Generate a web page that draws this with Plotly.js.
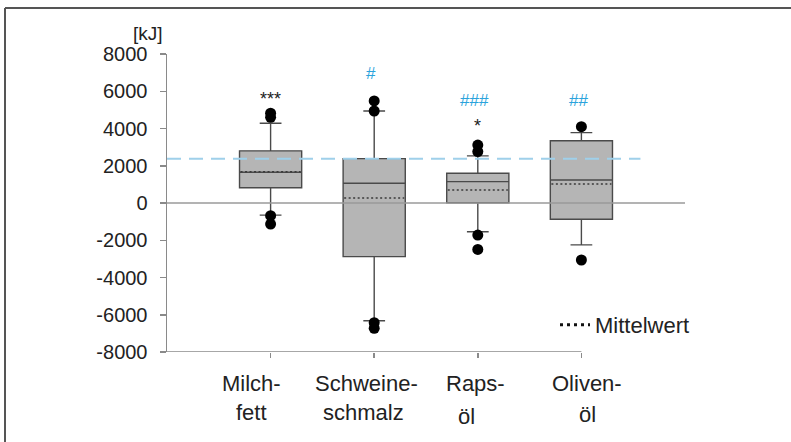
<!DOCTYPE html>
<html>
<head>
<meta charset="utf-8">
<script src="https://cdn.plot.ly/plotly-3.0.1.min.js"></script>
<style>
  html, body { margin: 0; padding: 0; background: #fff; }
  #chart { width: 791px; height: 442px; }
</style>
</head>
<body>
<div id="chart"></div>
<script>
// Energy balance per fat type, box plots in kJ
const categories = ['Milch-<br>fett', 'Schweine-<br>schmalz', 'Raps-<br>öl', 'Oliven-<br>öl'];
const q1Values = [820, -2880, 10, -870];
const medianValues = [1650, 1060, 1150, 1235];
const q3Values = [2800, 2380, 1600, 3340];
const lowerWhisker = [-650, -6320, -1540, -2250];
const upperWhisker = [4280, 4940, 2530, 3780];
const meanValues = [1680, 270, 700, 1020];
const outliers = [
  [4600, 4820, -680, -1130],
  [5480, 4940, -6430, -6730],
  [3110, 2760, -1720, -2490],
  [4100, -3060]
];
const starLabels = ['***', '', '*', ''];
const hashLabels = ['', '#', '###', '##'];
const referenceValue = 2370;
const yTicks = [-8000, -6000, -4000, -2000, 0, 2000, 4000, 6000, 8000];
const yTickText = yTicks.map(v => String(v));

// plot geometry (pixels)
const W = 791, H = 442;
const M = { l: 167, r: 106, t: 54, b: 90 };
const pw = W - M.l - M.r, ph = H - M.t - M.b;
const px2x = p => (p - M.l) / pw;
const px2y = p => (H - M.b - p) / ph;

const xs = categories.map((_, i) => i);
const boxWidth = 0.6;
const half = boxWidth / 2 - 0.01;

const boxTrace = {
  type: 'box',
  x: xs,
  q1: q1Values,
  median: medianValues,
  q3: q3Values,
  lowerfence: lowerWhisker,
  upperfence: upperWhisker,
  width: boxWidth,
  whiskerwidth: 0.35,
  fillcolor: '#b5b5b5',
  line: { color: '#4a4a4a', width: 1.4 },
  boxpoints: false,
  hoverinfo: 'skip',
  showlegend: false
};

const meanX = [], meanY = [];
meanValues.forEach((m, i) => {
  meanX.push(i - half, i + half, null);
  meanY.push(m, m, null);
});
const meanTrace = {
  type: 'scatter', mode: 'lines',
  x: meanX, y: meanY,
  line: { color: '#3a3a3a', width: 1.5, dash: '2px,2.5px' },
  hoverinfo: 'skip', showlegend: false
};

const outX = [], outY = [];
outliers.forEach((arr, i) => arr.forEach(v => { outX.push(i); outY.push(v); }));
const outlierTrace = {
  type: 'scatter', mode: 'markers',
  x: outX, y: outY,
  marker: { color: '#000', size: 11, symbol: 'circle' },
  hoverinfo: 'skip', showlegend: false
};

const legendTrace = {
  type: 'scatter', mode: 'lines',
  x: [null], y: [null],
  name: 'Mittelwert',
  line: { color: '#111', width: 3, dash: '3px,4px' },
  showlegend: true
};

const font = 'Liberation Sans, Arial, Helvetica, sans-serif';
const hashBlue = '#2aa3dc';

const starY = [5600, null, 4150, null];
const hashY = [null, 6980, 5490, 5490];
const annotations = [
  { xref: 'paper', yref: 'paper', x: px2x(148), y: px2y(33), text: '[kJ]',
    xanchor: 'center', yanchor: 'middle',
    showarrow: false, font: { family: font, size: 19, color: '#222' } }
];
starLabels.forEach((t, i) => {
  if (t) annotations.push({ x: i, y: starY[i], text: t, showarrow: false,
    font: { family: font, size: 18, color: '#222' } });
});
hashLabels.forEach((t, i) => {
  if (t) annotations.push({ x: i - 0.03, y: hashY[i], text: t, showarrow: false,
    font: { family: font, size: 17, color: hashBlue } });
});

// category labels, two lines each, set slightly off their ticks
const labelShift1 = [-19, -8, -2, 6];
const labelShift2 = [-19, -11, -11, 6];
const labelLineY = [383, 412];
const labelLine2Y = [412, 412, 416, 414];
categories.forEach((c, i) => {
  const parts = c.split('<br>');
  annotations.push({ x: i, xshift: labelShift1[i], yref: 'paper', y: px2y(labelLineY[0]),
    xanchor: 'center', yanchor: 'middle', text: parts[0], showarrow: false,
    font: { family: font, size: 22, color: '#222' } });
  annotations.push({ x: i, xshift: labelShift2[i], yref: 'paper', y: px2y(labelLine2Y[i]),
    xanchor: 'center', yanchor: 'middle', text: parts[1], showarrow: false,
    font: { family: font, size: 22, color: '#222' } });
});

const shapes = [
  // zero line across the plot
  { type: 'line', layer: 'above', xref: 'x', yref: 'y', x0: -1, x1: 4, y0: 0, y1: 0,
    line: { color: '#9a9a9a', width: 1.5 } },
  // reference level
  { type: 'line', layer: 'above', xref: 'x', yref: 'y', x0: -1, x1: 3.57,
    y0: referenceValue, y1: referenceValue,
    line: { color: '#9fd0ea', width: 2, dash: '14px,8px' } },
  // x axis line up to the last category
  { type: 'line', layer: 'above', xref: 'x', yref: 'y', x0: -1, x1: 3, y0: -8000, y1: -8000,
    line: { color: '#8a8a8a', width: 1.5 } },
  // frame: top and left edges
  { type: 'line', layer: 'above', xref: 'paper', yref: 'paper',
    x0: px2x(5), x1: px2x(791), y0: px2y(8), y1: px2y(8),
    line: { color: '#555', width: 2 } },
  { type: 'line', layer: 'above', xref: 'paper', yref: 'paper',
    x0: px2x(5), x1: px2x(5), y0: px2y(8), y1: px2y(442),
    line: { color: '#555', width: 2 } }
];

const layout = {
  width: W, height: H,
  margin: M,
  paper_bgcolor: '#fff', plot_bgcolor: '#fff',
  font: { family: font, color: '#222' },
  xaxis: {
    range: [-1, 4],
    tickvals: xs, showticklabels: false,
    ticks: 'outside', ticklen: 5, tickwidth: 1.5, tickcolor: '#8a8a8a',
    showline: false, showgrid: false, zeroline: false, fixedrange: true
  },
  yaxis: {
    range: [-8000, 8000],
    tickvals: yTicks, ticktext: yTickText,
    ticks: 'outside', ticklen: 6, tickwidth: 1.5, tickcolor: '#8a8a8a',
    tickfont: { family: font, size: 20, color: '#222' },
    ticklabelstandoff: 8,
    showline: true, linecolor: '#8a8a8a', linewidth: 1.5,
    showgrid: false, zeroline: false, fixedrange: true
  },
  legend: {
    x: px2x(555), y: px2y(325), xanchor: 'left', yanchor: 'middle',
    bgcolor: 'rgba(0,0,0,0)',
    font: { family: font, size: 22, color: '#222' },
    itemwidth: 30
  },
  showlegend: true,
  annotations: annotations,
  shapes: shapes
};

Plotly.newPlot('chart', [boxTrace, meanTrace, outlierTrace, legendTrace], layout,
  { displayModeBar: false, staticPlot: true });
</script>
</body>
</html>
